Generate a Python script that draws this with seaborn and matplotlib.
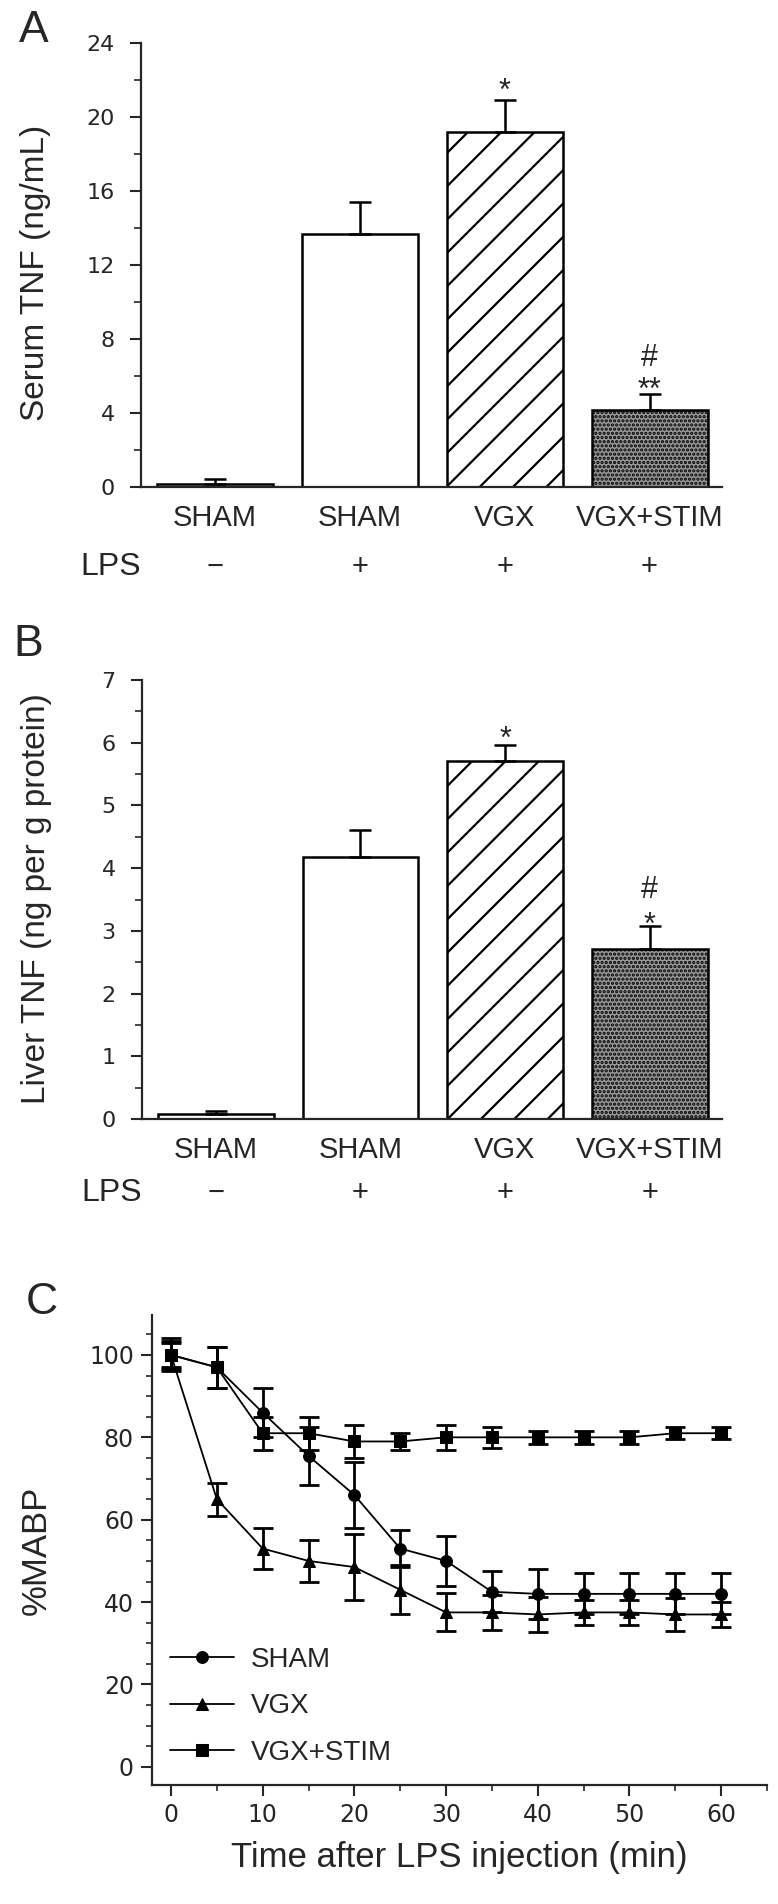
import numpy as np
import pandas as pd
import matplotlib
matplotlib.use("Agg")
import matplotlib.pyplot as plt
from matplotlib.ticker import MultipleLocator
import seaborn as sns

# Panel A / B data (mean, upper SEM)
groups = ["SHAM", "SHAM", "VGX", "VGX+STIM"]
lps = ["\u2212", "+", "+", "+"]
serum_tnf = [0.15, 13.7, 19.2, 4.15]
serum_err = [0.3, 1.7, 1.7, 0.9]
liver_tnf = [0.08, 4.17, 5.71, 2.71]
liver_err = [0.05, 0.44, 0.25, 0.36]
# significance marks: (text, baseline offset above the error bar in px)
serum_marks = [[], [], [("*", 0)], [("**", -5.5), ("#", 28)]]
liver_marks = [[], [], [("*", -3)], [("*", -7), ("#", 28)]]

# Panel C data
time_min = [0, 5, 10, 15, 20, 25, 30, 35, 40, 45, 50, 55, 60]
sham_mabp = [100, 97, 86, 75.5, 66, 53, 50, 42.5, 42, 42, 42, 42, 42]
sham_err = [3, 5, 6, 7, 8, 4.5, 6, 5, 6, 5, 5, 5, 5]
vgx_mabp = [100, 65, 53, 50, 48.5, 43, 37.5, 37.5, 37, 37.5, 37.5, 37, 37]
vgx_err = [3.5, 4, 5, 5, 8, 6, 4.6, 4.2, 4.3, 3, 3, 4, 3]
stim_mabp = [100, 97, 81, 81, 79, 79, 80, 80, 80, 80, 80, 81, 81]
stim_err = [4, 5, 4, 4, 4, 2, 3, 2.5, 1.5, 1.5, 1.5, 1.5, 1.5]
line_groups = ["SHAM", "VGX", "VGX+STIM"]

sns.set_style("ticks")
plt.rcParams["font.family"] = ["Liberation Sans", "DejaVu Sans"]
plt.rcParams["hatch.linewidth"] = 1.6
TICK_FONT = ["DejaVu Sans"]

W, H = 778, 1904
fig = plt.figure(figsize=(W / 100, H / 100), dpi=100)


def px_axes(left, top, right, bottom):
    return fig.add_axes([left / W, 1 - bottom / H, (right - left) / W, (bottom - top) / H])


def bar_panel(ax, vals, errs, marks, ymax, major, minor, ylabel, label_y, lps_y):
    pos = np.arange(len(vals))
    sns.barplot(x=pos, y=vals, ax=ax, width=0.8, color="white",
                edgecolor="black", linewidth=1.8, errorbar=None, saturation=1)
    bars = ax.patches
    bars[2].set_hatch("/")
    bars[3].set_facecolor("#9a9a9a")
    bars[3].set_hatch("....")
    ax.errorbar(pos, vals, yerr=[np.zeros(len(vals)), errs], fmt="none",
                ecolor="black", elinewidth=1.8, capsize=8, capthick=1.8)
    for p, v, e, ms in zip(pos, vals, errs, marks):
        for txt, off in ms:
            ax.annotate(txt, (p, v + e), xytext=(0, off * 0.72), textcoords="offset points",
                        ha="center", va="baseline", fontsize=22)
    ax.set_xlim(-0.51, 3.5)
    ax.set_ylim(0, ymax)
    ax.yaxis.set_major_locator(MultipleLocator(major))
    ax.yaxis.set_minor_locator(MultipleLocator(minor))
    ax.tick_params(axis="y", which="major", length=8, width=1.5, pad=11, labelsize=16)
    ax.tick_params(axis="y", which="minor", length=5, width=1.2)
    for lab in ax.get_yticklabels():
        lab.set_family(TICK_FONT)
    ax.set_xticks(pos)
    ax.set_xticklabels(groups, fontsize=21)
    ax.tick_params(axis="x", length=0, pad=12)
    for p, s in zip(pos, lps):
        ax.text(p, lps_y, s, transform=ax.get_xaxis_transform(),
                ha="center", va="center", fontsize=21)
    ax.text(-0.717, lps_y, "LPS", transform=ax.get_xaxis_transform(),
            ha="center", va="center", fontsize=23)
    ax.set_xlabel("")
    ax.set_ylabel(ylabel, fontsize=24, va="center")
    ax.yaxis.set_label_coords(-0.182, label_y)
    for sp in ["left", "bottom"]:
        ax.spines[sp].set_linewidth(1.6)
    sns.despine(ax=ax)


# A
axA = px_axes(141, 43, 722, 487)
bar_panel(axA, serum_tnf, serum_err, serum_marks, 24, 4, 2,
          "Serum TNF (ng/mL)", 0.482, -0.18)
fig.text(34 / W, 1 - 30 / H, "A", fontsize=32, ha="center", va="center")

# B
axB = px_axes(142, 680, 722, 1119)
bar_panel(axB, liver_tnf, liver_err, liver_marks, 7, 1, 0.5,
          "Liver TNF (ng per g protein)", 0.503, -0.169)
fig.text(28 / W, 1 - 645 / H, "B", fontsize=32, ha="center", va="center")

# C
axC = px_axes(152, 1315, 767, 1785)
df = pd.DataFrame({
    "time": np.tile(time_min, 3),
    "mabp": np.concatenate([sham_mabp, vgx_mabp, stim_mabp]),
    "group": np.repeat(line_groups, len(time_min)),
})
sns.lineplot(data=df, x="time", y="mabp", style="group", style_order=line_groups,
             markers={"SHAM": "o", "VGX": "^", "VGX+STIM": "s"}, dashes=False,
             color="black", markersize=8.5, markeredgecolor="black",
             linewidth=1.3, ax=axC)
for vals, errs in [(sham_mabp, sham_err), (vgx_mabp, vgx_err), (stim_mabp, stim_err)]:
    axC.errorbar(time_min, vals, yerr=errs, fmt="none", ecolor="black",
                 elinewidth=2, capsize=7, capthick=2)
axC.set_xlim(-2.07, 65)
axC.set_ylim(-4.4, 109.7)
axC.xaxis.set_major_locator(MultipleLocator(10))
axC.xaxis.set_minor_locator(MultipleLocator(5))
axC.yaxis.set_major_locator(MultipleLocator(20))
axC.yaxis.set_minor_locator(MultipleLocator(5))
axC.tick_params(which="major", length=8, width=1.5, labelsize=17, pad=5)
axC.tick_params(which="minor", length=4.5, width=1.2)
for lab in axC.get_xticklabels() + axC.get_yticklabels():
    lab.set_family(TICK_FONT)
axC.set_xlabel("Time after LPS injection (min)", fontsize=25, labelpad=10)
axC.set_ylabel("%MABP", fontsize=25, va="center")
axC.yaxis.set_label_coords(-0.188, 0.5)
for sp in ["left", "bottom"]:
    axC.spines[sp].set_linewidth(1.6)
sns.despine(ax=axC)
handles, labels = axC.get_legend_handles_labels()
axC.legend(handles, labels, loc="lower left", bbox_to_anchor=(0.029, 0.04),
           frameon=False, fontsize=20, handlelength=2.3, handletextpad=0.6,
           labelspacing=0.75, borderpad=0, borderaxespad=0)
fig.text(42 / W, 1 - 1303 / H, "C", fontsize=32, ha="center", va="center")

fig.savefig("out.png", dpi=100)
